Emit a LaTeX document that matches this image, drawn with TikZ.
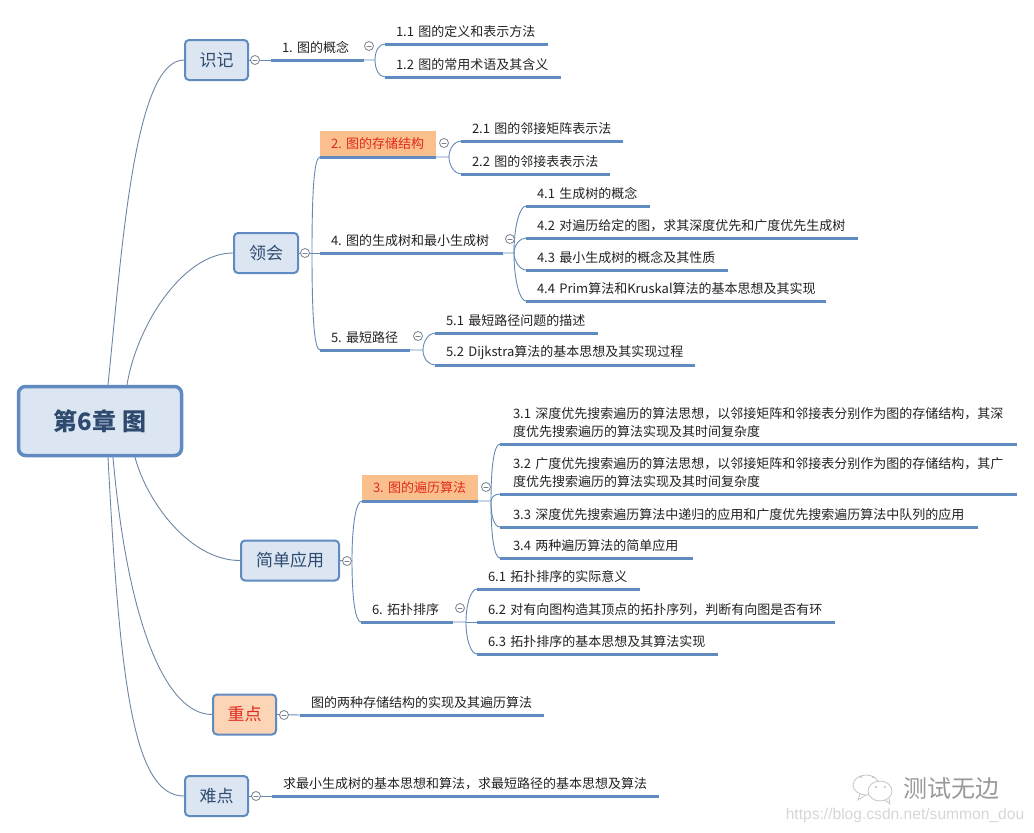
\documentclass[tikz,border=0pt]{standalone}
\usepackage{fontspec}
\usepackage{xcolor}
\setmainfont{Noto Sans CJK SC}
\newfontfamily\urlfont{Liberation Sans}
\definecolor{mapblue}{HTML}{5F8BC1}
\definecolor{mapfill}{HTML}{DCE6F3}
\definecolor{mapink}{HTML}{2E4A6E}
\definecolor{mappeach}{HTML}{FBD5B5}
\definecolor{maporange}{HTML}{FBBF8E}
\definecolor{mapred}{HTML}{DF2A1E}
\definecolor{mapleaf}{HTML}{222222}
\begin{document}
\begin{tikzpicture}[x=1pt,y=-1pt,line cap=round,
  rootbox/.style={draw=mapblue,fill=mapfill,line width=3.5pt,rounded corners=7pt,minimum width=163pt,minimum height=69pt,text=mapink,font=\fontsize{24}{28}\selectfont\bfseries},
  mainbox/.style={draw=mapblue,fill=mapfill,line width=2pt,rounded corners=4pt,minimum width=#1,minimum height=40pt,inner sep=0pt,text=mapink,font=\fontsize{17}{20}\selectfont},
  peachbox/.style={fill=mappeach,text=mapred},
  topic/.style={anchor=south west,outer sep=0pt,inner ysep=0pt,inner xsep=11pt,text width=#1pt-22pt,align=left,minimum height=24.5pt,text=mapleaf,font=\fontsize{13}{18.5}\selectfont},
  hot/.style={fill=maporange,text=mapred,minimum height=26pt},
  ul/.style={mapblue,line width=3pt,line cap=butt},
  twig/.style={mapblue!85!gray,line width=0.9pt},
  trunk/.style={mapblue!55!gray,line width=0.9pt},
  rise/.style={out=90,in=180,in distance=6pt,out distance=#1pt},
  drop/.style={out=-90,in=180,in distance=6pt,out distance=#1pt},
  fold/.style={circle,draw=gray!80!mapblue,fill=white,line width=0.8pt,minimum size=9pt,inner sep=0pt,path picture={\draw[gray!80!mapblue,line width=0.7pt] ([xshift=2.4pt]path picture bounding box.west) -- ([xshift=-2.4pt]path picture bounding box.east);}}]
\useasboundingbox (0,0) rectangle (1034,833);
\node[rootbox] (root) at (100,421) {第6章 图};
\node[mainbox=63pt] (shiji) at (216.5,60) {识记};
\node[mainbox=64pt] (linghui) at (266,253) {领会};
\node[mainbox=98pt] (yingyong) at (290,560.5) {简单应用};
\node[mainbox=63pt,peachbox] (zhongdian) at (244.5,714.5) {重点};
\node[mainbox=63pt] (nandian) at (216.5,796) {难点};
\node[topic=93] (n1) at (271,60) {1.~图的概念};
\node[topic=163] (n11) at (385,44) {1.1 图的定义和表示方法};
\node[topic=176] (n12) at (385,77) {1.2 图的常用术语及其含义};
\node[topic=116,hot] (n2) at (320,157) {2.~图的存储结构};
\node[topic=162] (n21) at (461,141) {2.1 图的邻接矩阵表示法};
\node[topic=149] (n22) at (461,174) {2.2 图的邻接表表示法};
\node[topic=183] (n4) at (320,253) {4.~图的生成树和最小生成树};
\node[topic=124] (n41) at (526,206) {4.1 生成树的概念};
\node[topic=332] (n42) at (526,238) {4.2 对遍历给定的图，求其深度优先和广度优先生成树};
\node[topic=202] (n43) at (526,270) {4.3 最小生成树的概念及其性质};
\node[topic=300] (n44) at (526,301) {4.4 Prim算法和Kruskal算法的基本思想及其实现};
\node[topic=90] (n5) at (320,350) {5.~最短路径};
\node[topic=163] (n51) at (435,333) {5.1 最短路径问题的描述};
\node[topic=260] (n52) at (435,365) {5.2 Dijkstra算法的基本思想及其实现过程};
\node[topic=116,hot] (n3) at (362,501) {3.~图的遍历算法};
\node[topic=513,inner xsep=13pt,minimum height=43pt] (n31) at (500,444) {3.1 深度优先搜索遍历的算法思想，以邻接矩阵和邻接表分别作为图的存储结构，其深\\度优先搜索遍历的算法实现及其时间复杂度};
\node[topic=513,inner xsep=13pt,minimum height=43pt] (n32) at (500,494) {3.2 广度优先搜索遍历的算法思想，以邻接矩阵和邻接表分别作为图的存储结构，其广\\度优先搜索遍历的算法实现及其时间复杂度};
\node[topic=474,inner xsep=13pt] (n33) at (500,527) {3.3 深度优先搜索遍历算法中递归的应用和广度优先搜索遍历算法中队列的应用};
\node[topic=189,inner xsep=13pt] (n34) at (500,558) {3.4 两种遍历算法的简单应用};
\node[topic=92] (n6) at (361,622) {6.~拓扑排序};
\node[topic=163] (n61) at (477,589) {6.1 拓扑排序的实际意义};
\node[topic=358] (n62) at (477,622) {6.2 对有向图构造其顶点的拓扑序列，判断有向图是否有环};
\node[topic=241] (n63) at (477,654) {6.3 拓扑排序的基本思想及其算法实现};
\node[topic=244] (n7) at (300,715) {图的两种存储结构的实现及其遍历算法};
\node[topic=387] (n8) at (272,796) {求最小生成树的基本思想和算法，求最短路径的基本思想及算法};
\foreach \n in {n1,n11,n12,n2,n21,n22,n4,n41,n42,n43,n44,n5,n51,n52,n3,n31,n32,n33,n34,n6,n61,n62,n63,n7,n8}
  \draw[ul] (\n.south west) -- (\n.south east);
\coordinate (h1) at (375,60);
\coordinate (h2) at (449,157);
\coordinate (h3) at (491,501);
\coordinate (h4) at (514,253);
\coordinate (h5) at (423,350);
\coordinate (h6) at (466,622);
\coordinate (hl) at (312,253);
\coordinate (hy) at (352,560.5);
\draw[trunk] ([xshift=8pt]root.north) .. controls +(14,-135) and +(-50,0) .. (shiji.west);
\draw[trunk] ([xshift=27pt]root.north) .. controls +(10,-60) and +(-50,0) .. (linghui.west);
\draw[trunk] ([xshift=35pt]root.south) .. controls +(12,45) and +(-50,0) .. (yingyong.west);
\draw[trunk] ([xshift=13pt]root.south) .. controls +(15,170) and +(-45,0) .. (zhongdian.west);
\draw[trunk] ([xshift=8pt]root.south) .. controls +(12,230) and +(-50,0) .. (nandian.west);
\draw[twig] (shiji.east) -- (n1.south west);
\draw[twig] (linghui.east) -- (n4.south west);
\draw[twig] (hl) to[rise=60] (n2.south west);
\draw[twig] (hl) to[drop=60] (n5.south west);
\draw[twig] (yingyong.east) -- (hy) to[rise=36] (n3.south west);
\draw[twig] (hy) to[drop=36] (n6.south west);
\draw[twig] (zhongdian.east) -- (n7.south west);
\draw[twig] (nandian.east) -- (n8.south west);
\draw[twig] (n1.south east) -- (h1) to[rise=9] (n11.south west);
\draw[twig] (h1) to[drop=9] (n12.south west);
\draw[twig] (n2.south east) -- (h2) to[rise=9] (n21.south west);
\draw[twig] (h2) to[drop=9] (n22.south west);
\draw[twig] (n4.south east) -- (h4) to[rise=28] (n41.south west);
\draw[twig] (h4) to[rise=8] (n42.south west);
\draw[twig] (h4) to[drop=8] (n43.south west);
\draw[twig] (h4) to[drop=28] (n44.south west);
\draw[twig] (n5.south east) -- (h5) to[rise=9] (n51.south west);
\draw[twig] (h5) to[drop=9] (n52.south west);
\draw[twig] (n3.south east) -- (h3) to[rise=34] (n31.south west);
\draw[twig] (h3) to[rise=3] (n32.south west);
\draw[twig] (h3) to[drop=15] (n33.south west);
\draw[twig] (h3) to[drop=34] (n34.south west);
\draw[twig] (n6.south east) -- (h6) to[rise=18] (n61.south west);
\draw[twig] (h6) -- (n62.south west);
\draw[twig] (h6) to[drop=18] (n63.south west);
\node[fold] (f1) at (255,60) {};
\node[fold] (f2) at (369,46) {};
\node[fold] (f3) at (305,253) {};
\node[fold] (f4) at (444,143) {};
\node[fold] (f5) at (510,239) {};
\node[fold] (f6) at (418,336) {};
\node[fold] (f7) at (347,561) {};
\node[fold] (f8) at (486,487) {};
\node[fold] (f9) at (460,608) {};
\node[fold] (f10) at (284,715) {};
\node[fold] (f11) at (256,796) {};
\draw[gray!45,line width=0.8pt,fill=white] (866,785) ellipse (13 and 10);
\draw[gray!45,line width=0.8pt,fill=white] (880,791) ellipse (12 and 10);
\draw[gray!45,line width=0.8pt] (860,794) -- (858,800) -- (866,795);
\draw[gray!45,line width=0.8pt] (885,800) -- (890,804) -- (889,798);
\fill[gray!50] (861,777) circle (1.2) (873,777) circle (1.2) (876,787) circle (1.2) (885,787) circle (1.2);
\node[text=gray!80,font=\fontsize{24}{28}\selectfont,inner sep=0pt] (mark) at (951,788) {测试无边};
\node[text=gray!32,font=\urlfont\fontsize{15.6}{20}\selectfont,inner sep=0pt] (url) at (905,815) {https://blog.csdn.net/summon\_dou};
\end{tikzpicture}
\end{document}
